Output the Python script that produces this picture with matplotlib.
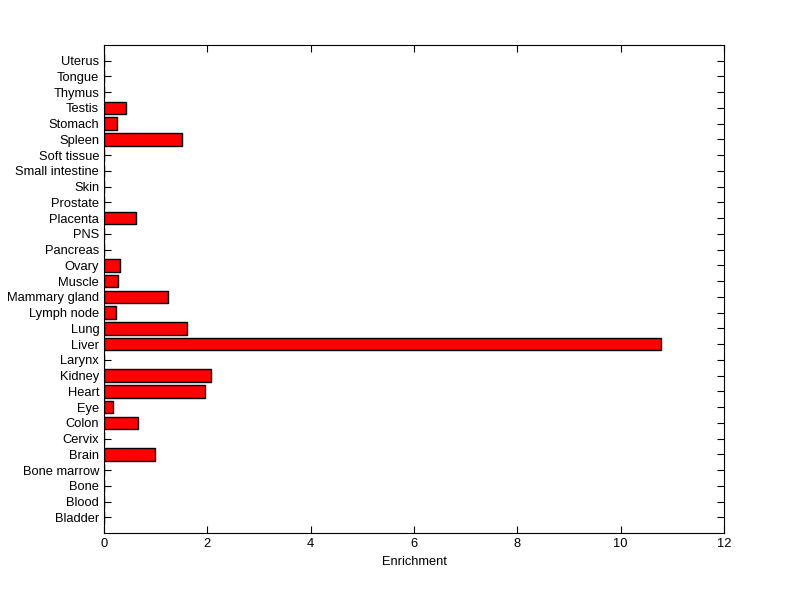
import matplotlib
matplotlib.use("Agg")
from matplotlib import pyplot as plt

plt.rcParams['font.family'] = ['Liberation Sans', 'DejaVu Sans']

# tissues from bottom to top
tissues = ["Bladder", "Blood", "Bone", "Bone marrow", "Brain", "Cervix", "Colon",
           "Eye", "Heart", "Kidney", "Larynx", "Liver", "Lung", "Lymph node",
           "Mammary gland", "Muscle", "Ovary", "Pancreas", "PNS", "Placenta",
           "Prostate", "Skin", "Small intestine", "Soft tissue", "Spleen",
           "Stomach", "Testis", "Thymus", "Tongue", "Uterus"]
enrichment = [0, 0, 0, 0, 0.98, 0, 0.65,
              0.17, 1.96, 2.08, 0, 10.79, 1.60, 0.23,
              1.23, 0.28, 0.30, 0, 0, 0.61,
              0, 0, 0, 0, 1.50,
              0.26, 0.42, 0, 0, 0]

fig = plt.figure(figsize=(8, 5.99), dpi=100)
ax = fig.add_axes([0.13, 0.11, 0.775, 0.815])
ax.set_axisbelow(True)

pos = list(range(1, len(tissues) + 1))
ax.barh(pos, enrichment, height=0.8, color="red", edgecolor="black", linewidth=1)

ax.set_xlim(0, 12)
ax.set_ylim(0, len(tissues) + 1)
ax.set_xticks(range(0, 13, 2))
ax.set_yticks(pos)
ax.set_yticklabels(tissues)
ax.tick_params(direction="in", top=True, right=True, labelsize=9.3, length=5)
ax.set_xlabel("Enrichment", fontsize=9.3)

plt.savefig("out.png")
